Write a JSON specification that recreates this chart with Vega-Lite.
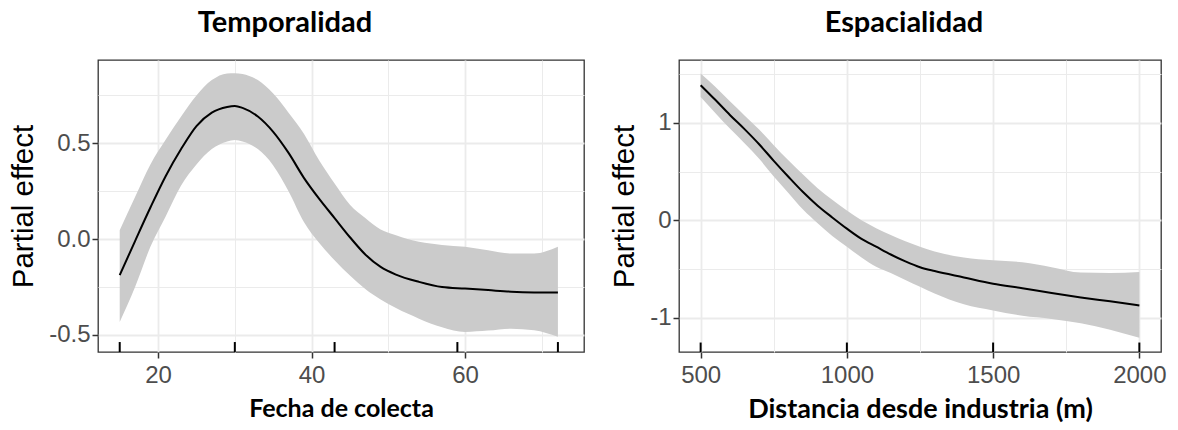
{
  "$schema": "https://vega.github.io/schema/vega-lite/v6.json",
  "background": "white",
  "padding": {"left": 7, "top": 8, "right": 5, "bottom": 2},
  "spacing": 24,
  "config": {
    "view": {"stroke": "#333333", "strokeWidth": 1.3},
    "font": "Liberation Sans",
    "axis": {
      "grid": true,
      "gridColor": "#EBEBEB",
      "domain": false,
      "labelColor": "#4D4D4D",
      "labelFont": "Liberation Sans",
      "labelFontSize": 24,
      "tickColor": "#333333",
      "tickSize": 6,
      "tickWidth": 1.5
    },
    "axisX": {"labelPadding": 5, "titleFont": "Lato", "titleFontWeight": "bold", "titleFontSize": 25, "titleColor": "black", "titlePadding": 9},
    "axisY": {"labelPadding": 2, "titleFont": "Liberation Sans", "titleFontWeight": "normal", "titleFontSize": 29.5, "titleColor": "black", "titlePadding": 10},
    "title": {"font": "Lato", "fontWeight": "bold", "fontSize": 29, "color": "black", "baseline": "alphabetic"}
  },
  "hconcat": [
    {
      "width": 486,
      "height": 292,
      "title": {"text": "Temporalidad", "anchor": "middle", "frame": "group", "dx": -56, "offset": 22},
      "layer": [
        {
          "data": {"name": "temporal", "values": [
            {"x": 15, "fit": -0.188, "lower": -0.432, "upper": 0.047},
            {"x": 17, "fit": -0.01, "lower": -0.25, "upper": 0.22},
            {"x": 19, "fit": 0.165, "lower": -0.04, "upper": 0.39},
            {"x": 21, "fit": 0.33, "lower": 0.12, "upper": 0.52},
            {"x": 23, "fit": 0.47, "lower": 0.28, "upper": 0.64},
            {"x": 25, "fit": 0.59, "lower": 0.39, "upper": 0.75},
            {"x": 27, "fit": 0.66, "lower": 0.47, "upper": 0.83},
            {"x": 29, "fit": 0.69, "lower": 0.51, "upper": 0.865},
            {"x": 30, "fit": 0.695, "lower": 0.517, "upper": 0.866},
            {"x": 31, "fit": 0.685, "lower": 0.51, "upper": 0.862},
            {"x": 33, "fit": 0.64, "lower": 0.47, "upper": 0.83},
            {"x": 35, "fit": 0.56, "lower": 0.385, "upper": 0.76},
            {"x": 37, "fit": 0.45, "lower": 0.25, "upper": 0.66},
            {"x": 39, "fit": 0.32, "lower": 0.09, "upper": 0.55},
            {"x": 41, "fit": 0.21, "lower": -0.02, "upper": 0.41},
            {"x": 43, "fit": 0.11, "lower": -0.11, "upper": 0.29},
            {"x": 45, "fit": 0.01, "lower": -0.19, "upper": 0.18},
            {"x": 47, "fit": -0.08, "lower": -0.26, "upper": 0.11},
            {"x": 49, "fit": -0.145, "lower": -0.315, "upper": 0.05},
            {"x": 51, "fit": -0.185, "lower": -0.36, "upper": 0.02},
            {"x": 54, "fit": -0.223, "lower": -0.415, "upper": -0.014},
            {"x": 57, "fit": -0.25, "lower": -0.46, "upper": -0.03},
            {"x": 60, "fit": -0.258, "lower": -0.484, "upper": -0.04},
            {"x": 63, "fit": -0.266, "lower": -0.477, "upper": -0.058},
            {"x": 66, "fit": -0.274, "lower": -0.467, "upper": -0.075},
            {"x": 69, "fit": -0.278, "lower": -0.475, "upper": -0.075},
            {"x": 72.1, "fit": -0.279, "lower": -0.51, "upper": -0.04}
          ]},
          "mark": {"type": "area", "color": "#CBCBCB", "opacity": 1, "interpolate": "monotone"},
          "encoding": {
            "x": {"field": "x", "type": "quantitative",
              "scale": {"domain": [12.17, 75.5], "nice": false, "zero": false},
              "axis": {"title": "Fecha de colecta", "values": [20, 30, 40, 50, 60, 70],
                "labelExpr": "datum.value % 20 === 0 ? format(datum.value, 'd') : ''",
                "gridWidth": {"condition": {"test": "datum.value % 20 === 0", "value": 1.8}, "value": 1},
                "tickOpacity": {"condition": {"test": "datum.value % 20 === 0", "value": 1}, "value": 0}}},
            "y": {"field": "lower", "type": "quantitative",
              "scale": {"domain": [-0.589, 0.935], "nice": false, "zero": false},
              "axis": {"title": "Partial effect", "values": [-0.5, -0.25, 0, 0.25, 0.5, 0.75],
                "labelExpr": "abs(datum.value * 2 - round(datum.value * 2)) < 0.001 ? (datum.value < 0 ? '-' + format(-datum.value, '.1f') : format(datum.value, '.1f')) : ''",
                "gridWidth": {"condition": {"test": "abs(datum.value * 2 - round(datum.value * 2)) < 0.001", "value": 1.8}, "value": 1},
                "tickOpacity": {"condition": {"test": "abs(datum.value * 2 - round(datum.value * 2)) < 0.001", "value": 1}, "value": 0}}},
            "y2": {"field": "upper"}
          }
        },
        {
          "data": {"name": "temporal"},
          "mark": {"type": "line", "color": "black", "strokeWidth": 2, "interpolate": "monotone"},
          "encoding": {
            "x": {"field": "x", "type": "quantitative"},
            "y": {"field": "fit", "type": "quantitative"}
          }
        },
        {
          "data": {"values": [{"r": 15}, {"r": 30}, {"r": 43}, {"r": 59}, {"r": 72.1}]},
          "mark": {"type": "rule", "color": "black", "strokeWidth": 2},
          "encoding": {
            "x": {"field": "r", "type": "quantitative"},
            "y": {"datum": -0.589},
            "y2": {"datum": -0.537}
          }
        }
      ]
    },
    {
      "width": 482,
      "height": 292,
      "title": {"text": "Espacialidad", "anchor": "middle", "frame": "group", "dx": -16, "offset": 22},
      "layer": [
        {
          "data": {"name": "espacial", "values": [
            {"x": 500, "fit": 1.385, "lower": 1.265, "upper": 1.505},
            {"x": 550, "fit": 1.235, "lower": 1.1, "upper": 1.37},
            {"x": 600, "fit": 1.08, "lower": 0.94, "upper": 1.22},
            {"x": 650, "fit": 0.935, "lower": 0.79, "upper": 1.075},
            {"x": 700, "fit": 0.78, "lower": 0.63, "upper": 0.93},
            {"x": 750, "fit": 0.61, "lower": 0.45, "upper": 0.77},
            {"x": 800, "fit": 0.447, "lower": 0.28, "upper": 0.615},
            {"x": 850, "fit": 0.29, "lower": 0.11, "upper": 0.47},
            {"x": 900, "fit": 0.15, "lower": -0.03, "upper": 0.33},
            {"x": 950, "fit": 0.03, "lower": -0.16, "upper": 0.21},
            {"x": 1000, "fit": -0.085, "lower": -0.27, "upper": 0.1},
            {"x": 1050, "fit": -0.19, "lower": -0.38, "upper": 0.0},
            {"x": 1100, "fit": -0.27, "lower": -0.475, "upper": -0.08},
            {"x": 1150, "fit": -0.35, "lower": -0.54, "upper": -0.15},
            {"x": 1200, "fit": -0.42, "lower": -0.61, "upper": -0.215},
            {"x": 1250, "fit": -0.48, "lower": -0.68, "upper": -0.27},
            {"x": 1300, "fit": -0.52, "lower": -0.75, "upper": -0.32},
            {"x": 1400, "fit": -0.585, "lower": -0.86, "upper": -0.38},
            {"x": 1500, "fit": -0.649, "lower": -0.923, "upper": -0.41},
            {"x": 1600, "fit": -0.695, "lower": -0.978, "upper": -0.43},
            {"x": 1700, "fit": -0.745, "lower": -1.01, "upper": -0.48},
            {"x": 1800, "fit": -0.79, "lower": -1.055, "upper": -0.535},
            {"x": 1900, "fit": -0.83, "lower": -1.12, "upper": -0.54},
            {"x": 2000, "fit": -0.872, "lower": -1.203, "upper": -0.53}
          ]},
          "mark": {"type": "area", "color": "#CBCBCB", "opacity": 1, "interpolate": "monotone"},
          "encoding": {
            "x": {"field": "x", "type": "quantitative",
              "scale": {"domain": [426, 2074], "nice": false, "zero": false},
              "axis": {"title": "Distancia desde industria (m)", "titleFontSize": 27, "values": [500, 750, 1000, 1250, 1500, 1750, 2000],
                "labelExpr": "datum.value % 500 === 0 ? format(datum.value, 'd') : ''",
                "gridWidth": {"condition": {"test": "datum.value % 500 === 0", "value": 1.8}, "value": 1},
                "tickOpacity": {"condition": {"test": "datum.value % 500 === 0", "value": 1}, "value": 0}}},
            "y": {"field": "lower", "type": "quantitative",
              "scale": {"domain": [-1.349, 1.643], "nice": false, "zero": false},
              "axis": {"title": "Partial effect", "values": [-1, -0.5, 0, 0.5, 1, 1.5],
                "labelExpr": "datum.value % 1 === 0 ? (datum.value < 0 ? '-' + format(-datum.value, 'd') : format(datum.value, 'd')) : ''",
                "gridWidth": {"condition": {"test": "datum.value % 1 === 0", "value": 1.8}, "value": 1},
                "tickOpacity": {"condition": {"test": "datum.value % 1 === 0", "value": 1}, "value": 0}}},
            "y2": {"field": "upper"}
          }
        },
        {
          "data": {"name": "espacial"},
          "mark": {"type": "line", "color": "black", "strokeWidth": 2, "interpolate": "monotone"},
          "encoding": {
            "x": {"field": "x", "type": "quantitative"},
            "y": {"field": "fit", "type": "quantitative"}
          }
        },
        {
          "data": {"values": [{"r": 500}, {"r": 1000}, {"r": 1500}, {"r": 2000}]},
          "mark": {"type": "rule", "color": "black", "strokeWidth": 2},
          "encoding": {
            "x": {"field": "r", "type": "quantitative"},
            "y": {"datum": -1.349},
            "y2": {"datum": -1.252}
          }
        }
      ]
    }
  ]
}
